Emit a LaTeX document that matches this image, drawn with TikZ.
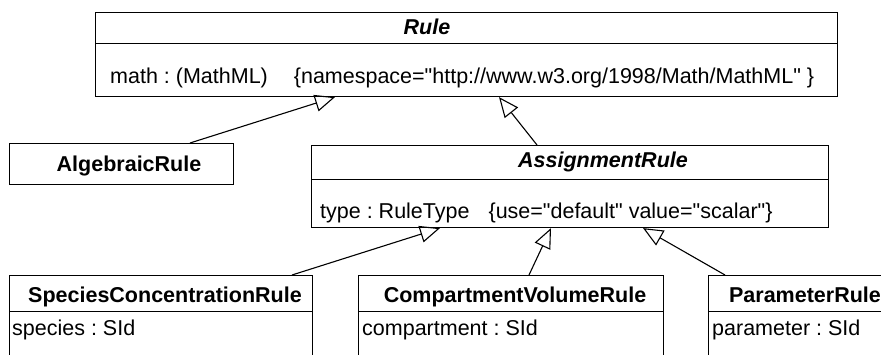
\documentclass[tikz,border=0pt]{standalone}
\usepackage{fontspec}
\setmainfont{Liberation Sans}[Ligatures=TeXOff]
\usetikzlibrary{arrows.meta}
\begin{document}
\frenchspacing
\begin{tikzpicture}[x=1pt,y=-1pt,
  box/.style={draw, line width=1.1pt, inner sep=0pt, anchor=north west, fill=white},
  ttl/.style={anchor=base, inner sep=0pt, font=\fontsize{21.5}{26}\selectfont\bfseries},
  attl/.style={anchor=base, inner sep=0pt, font=\fontsize{21.5}{26}\selectfont\bfseries\itshape},
  attr/.style={anchor=base west, inner sep=0pt, font=\fontsize{21.5}{26}\selectfont},
  gen/.style={line width=1.1pt, -{Triangle[open,length=20pt,width=17pt,line width=1.1pt]}}]
\useasboundingbox (0,0) rectangle (881,355);
\clip (0,0) rectangle (881,355);
% Rule
\node[box, minimum width=742pt, minimum height=31pt] (rulehead) at (95,12) {};
\node[box, minimum width=742pt, minimum height=53pt] (rulebody) at (95,43) {};
\node[attl] (ruletitle) at (427,35) {Rule};
\node[attr] (ruleattr) at (110,84) {math : (MathML)\hspace{26pt}\{namespace="http://www.w3.org/1998/Math/MathML" \}};
% AlgebraicRule
\node[box, minimum width=224pt, minimum height=41pt] (alg) at (9,143) {};
\node[ttl] (algtitle) at (129,172) {AlgebraicRule};
% AssignmentRule
\node[box, minimum width=517pt, minimum height=34pt] (assignhead) at (311,145) {};
\node[box, minimum width=517pt, minimum height=48pt] (assignbody) at (311,179) {};
\node[attl] (assigntitle) at (603,168) {AssignmentRule};
\node[attr] (assignattr) at (320,219) {type : RuleType\hspace{19pt}\{use="default" value="scalar"\}};
% SpeciesConcentrationRule
\node[box, minimum width=303pt, minimum height=36pt] (spechead) at (9,275) {};
\node[box, minimum width=303pt, minimum height=60pt] (specbody) at (9,311) {};
\node[ttl] (spectitle) at (165,303) {SpeciesConcentrationRule};
\node[attr] (specattr) at (12,335) {species : SId};
% CompartmentVolumeRule
\node[box, minimum width=305pt, minimum height=36pt] (comphead) at (358,275) {};
\node[box, minimum width=305pt, minimum height=60pt] (compbody) at (358,311) {};
\node[ttl] (comptitle) at (515,303) {CompartmentVolumeRule};
\node[attr] (compattr) at (362,335) {compartment : SId};
% ParameterRule
\node[box, minimum width=194pt, minimum height=36pt] (parhead) at (708,275) {};
\node[box, minimum width=194pt, minimum height=60pt] (parbody) at (708,311) {};
\node[ttl] (partitle) at (805,303) {ParameterRule};
\node[attr] (parattr) at (712,335) {parameter : SId};
% generalizations
\draw[gen] ([xshift=181pt]alg.north west) -- ([xshift=240pt]rulebody.south west);
\draw[gen] ([xshift=226pt]assignhead.north west) -- ([xshift=404pt]rulebody.south west);
\draw[gen] ([xshift=283pt]spechead.north west) -- ([xshift=129pt]assignbody.south west);
\draw[gen] ([xshift=171pt]comphead.north west) -- ([xshift=240pt]assignbody.south west);
\draw[gen] ([xshift=17pt]parhead.north west) -- ([xshift=332pt]assignbody.south west);
\end{tikzpicture}
\end{document}
